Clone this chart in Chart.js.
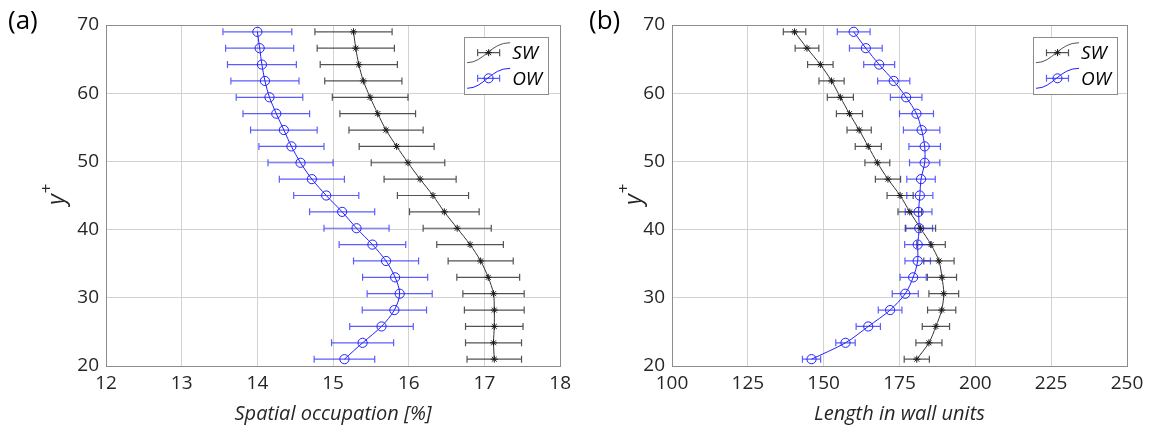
<!DOCTYPE html>
<html>
<head>
<meta charset="utf-8">
<script src="https://cdn.jsdelivr.net/npm/chart.js@4.4.1/dist/chart.umd.min.js"></script>
<style>
html,body{margin:0;padding:0;background:#fff;}
#wrap{position:relative;width:1154px;height:433px;overflow:hidden;}
.panel{position:absolute;top:0;width:577px;height:433px;}
</style>
</head>
<body>
<div id="wrap">
  <div class="panel" style="left:0"><canvas id="ca" width="577" height="433"></canvas></div>
  <div class="panel" style="left:577px"><canvas id="cb" width="577" height="433"></canvas></div>
</div>
<script>
// ---- data (bottom to top) ----
const yPlus = [21, 23.4, 25.8, 28.2, 30.6, 33, 35.4, 37.8, 40.2, 42.6, 45, 47.4, 49.8, 52.2, 54.6, 57, 59.4, 61.8, 64.2, 66.6, 69];

// panel (a): spatial occupation [%]
const occSW    = [17.13, 17.12, 17.13, 17.13, 17.12, 17.05, 16.95, 16.81, 16.64, 16.47, 16.32, 16.15, 15.99, 15.84, 15.70, 15.59, 15.49, 15.40, 15.34, 15.30, 15.27];
const occSWErr = [0.36, 0.37, 0.38, 0.395, 0.405, 0.415, 0.43, 0.44, 0.45, 0.46, 0.47, 0.476, 0.486, 0.495, 0.49, 0.50, 0.50, 0.51, 0.51, 0.51, 0.51];
const occOW    = [15.15, 15.39, 15.64, 15.81, 15.88, 15.82, 15.70, 15.52, 15.31, 15.12, 14.91, 14.72, 14.57, 14.45, 14.35, 14.25, 14.16, 14.10, 14.06, 14.03, 14.00];
const occOWErr = [0.40, 0.41, 0.42, 0.425, 0.43, 0.43, 0.43, 0.44, 0.43, 0.43, 0.43, 0.43, 0.43, 0.43, 0.44, 0.44, 0.44, 0.45, 0.455, 0.45, 0.455];

// panel (b): length in wall units
const lenSW    = [180.7, 184.7, 187.0, 188.9, 189.6, 189.0, 188.0, 185.4, 181.9, 178.4, 175.2, 171.2, 167.7, 164.7, 161.7, 158.5, 155.5, 152.6, 148.9, 144.5, 140.4];
const lenSWErr = [4.15, 4.3, 4.5, 4.65, 4.9, 4.8, 5.0, 4.7, 5.0, 3.9, 4.3, 4.15, 4.1, 4.3, 4.0, 4.3, 4.3, 4.15, 4.2, 3.9, 3.7];
const lenOW    = [146.0, 157.2, 164.7, 171.9, 176.9, 179.5, 181.0, 181.0, 181.5, 181.3, 181.7, 182.1, 183.3, 183.3, 182.3, 180.6, 177.2, 173.1, 168.3, 163.9, 159.9];
const lenOWErr = [3.0, 3.2, 4.0, 3.9, 4.3, 4.3, 4.2, 4.3, 4.4, 4.4, 4.3, 4.7, 5.0, 5.2, 6.0, 5.6, 5.2, 5.3, 5.1, 5.4, 5.4];

const seriesNames = ['SW', 'OW'];
const yTicks = [20, 30, 40, 50, 60, 70];
const xTicksA = [12, 13, 14, 15, 16, 17, 18];
const xTicksB = [100, 125, 150, 175, 200, 225, 250];

// ---- styles ----
const FONT = '"Open Sans", "DejaVu Sans", sans-serif';
const BLACK = '#1a1a1a';
const BLUE = '#2020ff';
const SW_BAR = 'rgba(40,40,40,0.8)';
const OW_BAR = 'rgba(30,30,255,0.72)';

function pts(xs){ return xs.map((v,i)=>({x:v, y:yPlus[i]})); }

const decorPlugin = {
  id: 'decor',
  beforeDatasetsDraw(chart, args, o) {
    const ctx = chart.ctx, xs = chart.scales.x, ys = chart.scales.y;
    ctx.save();
    ctx.beginPath();
    const a = chart.chartArea;
    ctx.rect(a.left, a.top, a.right - a.left, a.bottom - a.top);
    ctx.clip();
    o.errs.forEach((err, di) => {
      const vals = chart.data.datasets[di].data;
      ctx.strokeStyle = o.barColors[di];
      ctx.lineWidth = 1.2;
      vals.forEach((p, i) => {
        const x1 = xs.getPixelForValue(p.x - err[i]);
        const x2 = xs.getPixelForValue(p.x + err[i]);
        const y = ys.getPixelForValue(p.y);
        ctx.beginPath();
        ctx.moveTo(x1, y); ctx.lineTo(x2, y);
        ctx.moveTo(x1, y - 3.5); ctx.lineTo(x1, y + 3.5);
        ctx.moveTo(x2, y - 3.5); ctx.lineTo(x2, y + 3.5);
        ctx.stroke();
      });
    });
    ctx.restore();
  },
  afterDraw(chart, args, o) {
    const ctx = chart.ctx, a = chart.chartArea;
    ctx.save();
    // box
    ctx.strokeStyle = '#8c8c8c';
    ctx.lineWidth = 1;
    ctx.strokeRect(Math.round(a.left) + 0.5, Math.round(a.top) + 0.5, Math.round(a.right - a.left), Math.round(a.bottom - a.top));
    // panel tag
    ctx.fillStyle = '#000';
    ctx.font = '26px ' + FONT;
    ctx.textAlign = 'left';
    ctx.textBaseline = 'middle';
    ctx.fillText(o.tag, o.tagX, 22);
    // x title
    ctx.font = 'italic 20px ' + FONT;
    ctx.fillStyle = '#262626';
    ctx.textAlign = 'center';
    ctx.fillText(o.xTitle, (a.left + a.right) / 2, 414);
    // y title (rotated)
    ctx.save();
    ctx.translate(o.yTitleX, (a.top + a.bottom) / 2);
    ctx.rotate(-Math.PI / 2);
    ctx.font = 'italic 23px ' + FONT;
    ctx.textAlign = 'center';
    ctx.fillText('y', -4, 0);
    ctx.font = '17px ' + FONT;
    ctx.fillText('+', 7, -10);
    ctx.restore();
    // legend
    const bw = 84, bh = 57;
    const bx = a.right - o.legRight - bw, by = a.top + 12;
    ctx.fillStyle = '#fff';
    ctx.fillRect(bx, by, bw, bh);
    ctx.strokeStyle = '#8c8c8c';
    ctx.strokeRect(Math.round(bx) + 0.5, Math.round(by) + 0.5, bw, bh);
    const rows = [by + 15.7, by + 41.3];
    rows.forEach((ry, k) => {
      const col = k === 0 ? '#555' : BLUE;
      ctx.strokeStyle = col;
      ctx.lineWidth = 1;
      ctx.beginPath();
      ctx.moveTo(bx + 3, ry + 10);
      ctx.bezierCurveTo(bx + 20, ry + 10, bx + 26, ry - 10, bx + 46, ry - 10);
      ctx.stroke();
      const cx = bx + 24.5;
      ctx.strokeStyle = k === 0 ? SW_BAR : OW_BAR;
      ctx.lineWidth = 1.2;
      ctx.beginPath();
      ctx.moveTo(cx - 11, ry); ctx.lineTo(cx + 11, ry);
      ctx.moveTo(cx - 11, ry - 3.5); ctx.lineTo(cx - 11, ry + 3.5);
      ctx.moveTo(cx + 11, ry - 3.5); ctx.lineTo(cx + 11, ry + 3.5);
      ctx.stroke();
      ctx.lineWidth = 1;
      if (k === 0) {
        ctx.strokeStyle = BLACK;
        ctx.beginPath();
        const r = 3.5;
        ctx.moveTo(cx - r, ry); ctx.lineTo(cx + r, ry);
        ctx.moveTo(cx, ry - r); ctx.lineTo(cx, ry + r);
        const d = r * 0.707;
        ctx.moveTo(cx - d, ry - d); ctx.lineTo(cx + d, ry + d);
        ctx.moveTo(cx - d, ry + d); ctx.lineTo(cx + d, ry - d);
        ctx.stroke();
      } else {
        ctx.strokeStyle = BLUE;
        ctx.beginPath();
        ctx.arc(cx, ry, 4.5, 0, Math.PI * 2);
        ctx.stroke();
      }
      ctx.fillStyle = '#000';
      ctx.font = 'italic 19px ' + FONT;
      ctx.textAlign = 'left';
      ctx.textBaseline = 'middle';
      ctx.fillText(seriesNames[k], bx + 48, ry + 1);
    });
    ctx.restore();
  }
};

function makeChart(id, swVals, owVals, swErr, owErr, xTicks, padRight, yAxisW, opts) {
  return new Chart(document.getElementById(id), {
    type: 'line',
    data: {
      datasets: [
        { label: seriesNames[0], data: pts(swVals), borderColor: '#333', borderWidth: 1,
          pointStyle: 'star', pointRadius: 3.5, pointBorderColor: BLACK, pointBorderWidth: 1,
          pointBackgroundColor: BLACK, tension: 0.3, fill: false },
        { label: seriesNames[1], data: pts(owVals), borderColor: BLUE, borderWidth: 1,
          pointStyle: 'circle', pointRadius: 4.6, pointBorderColor: BLUE, pointBorderWidth: 1,
          pointBackgroundColor: 'rgba(0,0,0,0)', tension: 0.3, fill: false }
      ]
    },
    options: {
      responsive: false,
      devicePixelRatio: 1,
      animation: false,
      events: [],
      layout: { padding: { left: 0, right: padRight, top: 25, bottom: 0 } },
      plugins: {
        legend: { display: false },
        tooltip: { enabled: false },
        decor: Object.assign({ errs: [swErr, owErr], barColors: [SW_BAR, OW_BAR] }, opts)
      },
      scales: {
        x: {
          type: 'linear', min: xTicks[0], max: xTicks[xTicks.length - 1],
          afterBuildTicks: s => { s.ticks = xTicks.map(v => ({ value: v })); },
          afterFit: s => { s.height = 67; },
          grid: { color: '#d2d2d2', lineWidth: 1, drawTicks: false, tickLength: 0 },
          border: { display: false },
          ticks: { color: '#262626', font: { family: FONT, size: 19 }, padding: 6, maxRotation: 0, autoSkip: false }
        },
        y: {
          type: 'linear', min: yTicks[0], max: yTicks[yTicks.length - 1],
          afterBuildTicks: s => { s.ticks = yTicks.map(v => ({ value: v })); },
          afterFit: s => { s.width = yAxisW; },
          grid: { color: '#d2d2d2', lineWidth: 1, drawTicks: false, tickLength: 0 },
          border: { display: false },
          ticks: { color: '#262626', font: { family: FONT, size: 19 }, padding: 7, autoSkip: false }
        }
      }
    },
    plugins: [decorPlugin]
  });
}

makeChart('ca', occSW, occOW, occSWErr, occOWErr, xTicksA, 15, 106,
  { tag: '(a)', tagX: 8, xTitle: 'Spatial occupation [%]', yTitleX: 57, legRight: 12 });
makeChart('cb', lenSW, lenOW, lenSWErr, lenOWErr, xTicksB, 27, 95,
  { tag: '(b)', tagX: 12, xTitle: 'Length in wall units', yTitleX: 57, legRight: 10 });
</script>
</body>
</html>
